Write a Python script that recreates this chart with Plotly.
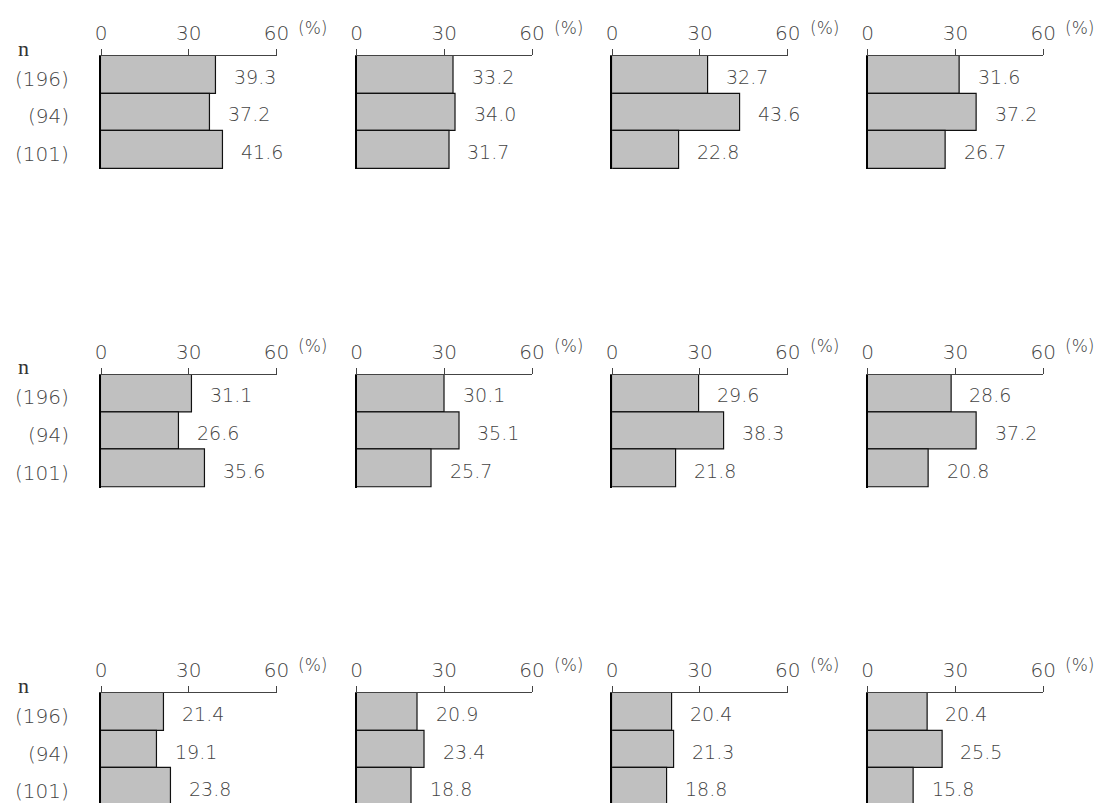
import plotly.graph_objects as go

# ---- data ----
categories = ["(196)", "(94)", "(101)"]
tick_values = [0, 30, 60]
tick_labels = ["0", "30", "60"]
panel_values = [
    [39.3, 37.2, 41.6],
    [33.2, 34.0, 31.7],
    [32.7, 43.6, 22.8],
    [31.6, 37.2, 26.7],
    [31.1, 26.6, 35.6],
    [30.1, 35.1, 25.7],
    [29.6, 38.3, 21.8],
    [28.6, 37.2, 20.8],
    [21.4, 19.1, 23.8],
    [20.9, 23.4, 18.8],
    [20.4, 21.3, 18.8],
    [20.4, 25.5, 15.8],
]

W, H = 1113, 803
FONT = "DejaVu Sans"
TXT = "#444444"

fig = go.Figure()
annotations = []
layout_axes = {}

for i, vals in enumerate(panel_values):
    r, c = divmod(i, 4)
    n = i + 1
    sfx = "" if n == 1 else str(n)
    left = 96.7 + 260 * c
    top = 56 + 318.5 * r
    block = 113.0
    bottom = min(top + block, H)
    visible = bottom - top
    unit = block / len(categories)
    ybottom_val = -0.5 + visible / unit

    xd = [left / W, (left + 178.5) / W]
    yd = [(H - bottom) / H, (H - top) / H]

    fig.add_trace(go.Bar(
        x=vals, y=categories, orientation="h",
        xaxis="x" + sfx, yaxis="y" + sfx,
        marker=dict(color="#c0c0c0", line=dict(color="#111111", width=1.2)),
        width=1.0, showlegend=False, hoverinfo="skip",
    ))

    layout_axes["xaxis" + sfx] = dict(
        domain=xd, range=[0, 60], anchor="y" + sfx, side="top",
        showline=True, linecolor="#444444", linewidth=1,
        ticks="outside", ticklen=6, tickcolor="#444444", tickwidth=1,
        tickvals=tick_values, ticktext=tick_labels,
        tickfont=dict(family=FONT, size=20, color=TXT, weight=200),
        ticklabelstandoff=1,
        showgrid=False, zeroline=False, fixedrange=True,
    )
    layout_axes["yaxis" + sfx] = dict(
        domain=yd, anchor="x" + sfx, type="category",
        categoryorder="array", categoryarray=categories,
        range=[ybottom_val, -0.5],
        showline=True, linecolor="#000000", linewidth=1.6,
        showticklabels=False, ticks="", showgrid=False, zeroline=False,
        fixedrange=True,
    )

    for cat, v in zip(categories, vals):
        annotations.append(dict(
            x=v, y=cat, xref="x" + sfx, yref="y" + sfx,
            text=f"{v:.1f}", showarrow=False, xanchor="left", yanchor="middle",
            xshift=16, yshift=-2,
            font=dict(family=FONT, size=19, color=TXT, weight=200),
        ))

    annotations.append(dict(
        x=60, y=(H - (top - 28)) / H, xref="x" + sfx, yref="paper",
        text="(%)", showarrow=False, xanchor="left", yanchor="middle", xshift=20,
        font=dict(family=FONT, size=17, color=TXT, weight=200),
    ))

    if c == 0:
        annotations.append(dict(
            x=10 / W, y=(H - (top - 8)) / H, xref="paper", yref="paper",
            text="n", showarrow=False, xanchor="left", yanchor="middle",
            font=dict(family="Liberation Serif", size=22, color="#333333"),
        ))
        for cat in categories:
            annotations.append(dict(
                x=66 / W, y=cat, xref="paper", yref="y" + sfx,
                text=cat, showarrow=False, xanchor="right", yanchor="middle",
                yshift=-4,
                font=dict(family=FONT, size=20, color=TXT, weight=200),
            ))

fig.update_layout(
    width=W, height=H,
    margin=dict(l=0, r=0, t=0, b=0),
    paper_bgcolor="white", plot_bgcolor="white",
    bargap=0,
    annotations=annotations,
    **layout_axes,
)

fig.write_html(
    "out.html",
    config={"displayModeBar": False},
    post_script="document.body.style.margin='0';document.body.style.overflow='hidden';",
)
